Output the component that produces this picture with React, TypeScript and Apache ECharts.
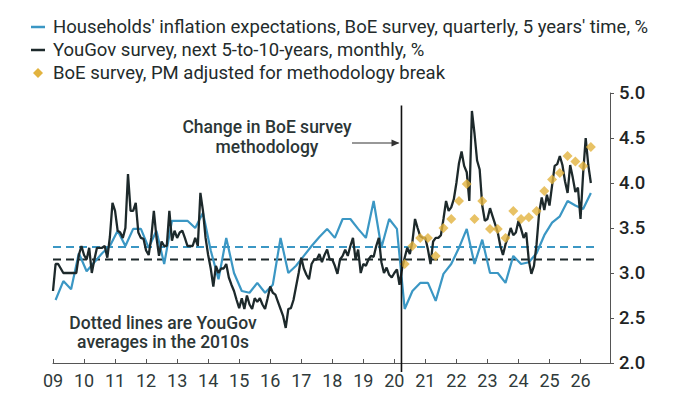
import React, { useEffect, useRef } from "react";
import * as echarts from "echarts";

// ---- axis ticks ----
const YEAR_TICKS = [2009, 2010, 2011, 2012, 2013, 2014, 2015, 2016, 2017, 2018, 2019, 2020, 2021, 2022, 2023, 2024, 2025, 2026];
const YEAR_LABELS = ["09", "10", "11", "12", "13", "14", "15", "16", "17", "18", "19", "20", "21", "22", "23", "24", "25", "26"];
const X_MIN = 2009;
const X_MAX = 2026.95;
const Y_MIN = 2;
const Y_MAX = 5;
const Y_STEP = 0.5;

// ---- series values ----
// YouGov survey, next 5-to-10-years, monthly from Jan 2009
const YOUGOV_START_YEAR = 2009;
const yougovMonthly = [
  2.8, 3.1, 3.1, 3.05, 3.0, 3.0, 3.0, 3.0, 3.0, 3.0, 3.2, 3.3,
  3.2, 3.15, 3.28, 3.0, 3.15, 3.28, 3.28, 3.28, 3.3, 3.17, 3.4, 3.78,
  3.69, 3.47, 3.45, 3.39, 3.5, 4.1, 3.69, 3.69, 3.78, 3.45, 3.39, 3.38,
  3.25, 3.2, 3.39, 3.69, 3.4, 3.19, 3.35, 3.3, 3.3, 3.69, 3.36, 3.47,
  3.39, 3.45, 3.47, 3.39, 3.3, 3.3, 3.3, 3.39, 3.3, 3.89, 3.69, 3.39,
  3.2, 3.05, 2.85, 3.08, 3.0, 3.05, 3.05, 3.1, 2.95, 2.87, 2.8, 2.7,
  2.61, 2.72, 2.6, 2.75, 2.65, 2.6, 2.72, 2.68, 2.72, 2.65, 2.6, 2.72,
  2.85, 2.78, 2.76, 2.68, 2.6, 2.52, 2.39, 2.6, 2.61, 2.7, 2.85, 3.0,
  3.17, 3.05, 2.98, 2.93, 3.1, 3.15, 3.15, 3.21, 3.12, 3.2, 3.26, 3.15,
  3.15, 3.08, 2.99, 3.15, 3.19, 3.26, 3.19, 3.3, 3.39, 3.15, 3.26, 3.0,
  3.1, 3.08, 3.15, 3.19, 3.18, 3.3, 3.39, 3.12, 3.0, 3.06, 2.98, 2.95,
  3.0, 3.04, 2.87, 3.05, 3.17, 3.28, 3.21, 3.35, 3.6, 3.5, 3.41, 3.39,
  3.39, 3.26, 3.1, 3.35, 3.39, 3.39, 3.42, 3.6, 3.8, 3.69, 3.73, 3.82,
  4.0, 4.22, 4.35, 4.19, 4.12, 3.8, 4.8, 4.55, 4.25, 4.15, 3.75, 3.58,
  3.6, 3.72, 3.63, 3.54, 3.45, 3.3, 3.2, 3.32, 3.4, 3.5, 3.42, 3.45,
  3.58, 3.49, 3.39, 3.45, 3.14, 2.99, 3.08, 3.32, 3.67, 3.84, 3.7, 3.87,
  3.75, 3.97, 4.19, 4.21, 4.3, 4.2, 4.02, 3.89, 4.2, 4.06, 3.9, 3.95,
  3.6, 4.1, 4.5, 4.2, 4.0,
];

// BoE household survey, 5 years' time, quarterly (Feb/May/Aug/Nov) from Feb 2009
const BOE_START_YEAR = 2009;
const boeQuarterly = [
  2.7, 2.91, 2.82, 3.22,
  3.02, 3.12, 3.22, 3.3,
  3.47, 3.3, 3.49, 3.49,
  3.28, 3.47, 3.1, 3.58,
  3.58, 3.58, 3.5, 3.67,
  3.25, 2.93, 3.39, 3.0,
  2.8, 2.78, 2.89, 2.78,
  2.87, 3.39, 3.0, 3.08,
  3.19, 3.3, 3.4, 3.49,
  3.39, 3.6, 3.6, 3.49,
  3.39, 3.8, 3.28, 3.6,
  3.49, 2.6, 2.8, 2.89,
  2.89, 2.69, 2.99, 3.1,
  3.28, 3.49, 3.1, 3.37,
  3.0, 3.0, 2.89, 3.19,
  3.1, 3.12, 3.22, 3.42,
  3.56, 3.63, 3.8, 3.75,
  3.71, 3.89,
];

// BoE survey, PM adjusted for methodology break, quarterly from May 2020
const ADJ_START_YEAR = 2020;
const ADJ_START_QUARTER = 1; // May
const boeAdjusted = [
  3.1, 3.3, 3.39,
  3.39, 3.19, 3.5, 3.6,
  3.8, 3.99, 3.6, 3.8,
  3.49, 3.49, 3.39, 3.69,
  3.6, 3.62, 3.69, 3.91,
  4.04, 4.11, 4.3, 4.24,
  4.19, 4.4,
];

// YouGov averages in the 2010s (dashed lines)
const AVG_BLUE = 3.29;
const AVG_DARK = 3.15;
const AVG_END = 2026.5;
const BREAK_YEAR = 2020.23;

const LEGEND_LABELS = [
  "Households' inflation expectations, BoE survey, quarterly, 5 years' time, %",
  "YouGov survey, next 5-to-10-years, monthly, %",
  "BoE survey, PM adjusted for methodology break",
];

const BLUE = "#3b97c4";
const DARK = "#1d292b";
const GOLD = "#e2b33f";
const TEXT = "#232b2b";
const FONT = 'Roboto, "Noto Sans", sans-serif';

export default function App() {
  const ref = useRef<HTMLDivElement>(null);

  useEffect(() => {
    if (!ref.current) return;
    const chart = echarts.init(ref.current, undefined, { renderer: "svg" });

    const yougovData = yougovMonthly.map((v, i) => [YOUGOV_START_YEAR + i / 12, v]);
    const boeData = boeQuarterly.map((v, i) => [BOE_START_YEAR + 1 / 12 + i / 4, v]);
    const adjData = boeAdjusted.map((v, i) => [ADJ_START_YEAR + 1 / 12 + (ADJ_START_QUARTER + i) / 4, v]);

    const option: any = {
      animation: false,
      textStyle: { fontFamily: FONT },
      grid: { left: 53, right: 70, top: 93, bottom: 56, containLabel: false },
      xAxis: {
        type: "value",
        min: X_MIN,
        max: X_MAX,
        splitLine: { show: false },
        axisLine: { show: true, lineStyle: { color: "#555", width: 1 } },
        axisTick: { show: true, inside: true, length: 4, customValues: YEAR_TICKS, lineStyle: { color: "#555" } },
        axisLabel: {
          customValues: YEAR_TICKS,
          formatter: (v: number) => {
            const i = YEAR_TICKS.indexOf(Math.round(v));
            return i >= 0 && Math.abs(v - YEAR_TICKS[i]) < 1e-6 ? YEAR_LABELS[i] : "";
          },
          margin: 8,
          fontSize: 18,
          color: "#2f3a3a",
          fontFamily: FONT,
        },
      },
      yAxis: {
        type: "value",
        position: "right",
        min: Y_MIN,
        max: Y_MAX,
        interval: Y_STEP,
        splitLine: { show: false },
        axisLine: { show: true, lineStyle: { color: "#555", width: 1 } },
        axisTick: { show: true, inside: false, length: 4, lineStyle: { color: "#555" } },
        axisLabel: {
          formatter: (v: number) => v.toFixed(1),
          margin: 9,
          fontSize: 18.5,
          fontWeight: 500,
          color: "#1e2424",
          fontFamily: FONT,
        },
      },
      series: [
        {
          type: "line",
          data: [[X_MIN, AVG_BLUE], [AVG_END, AVG_BLUE]],
          symbol: "none",
          silent: true,
          lineStyle: { color: BLUE, width: 2, type: [8, 5] },
          z: 1,
        },
        {
          type: "line",
          data: [[X_MIN, AVG_DARK], [AVG_END, AVG_DARK]],
          symbol: "none",
          silent: true,
          lineStyle: { color: DARK, width: 2, type: [8, 5] },
          z: 1,
        },
        {
          name: LEGEND_LABELS[0],
          type: "line",
          data: boeData,
          symbol: "none",
          lineStyle: { color: BLUE, width: 2.2 },
          z: 2,
        },
        {
          name: LEGEND_LABELS[1],
          type: "line",
          data: yougovData,
          symbol: "none",
          lineStyle: { color: DARK, width: 2.3 },
          z: 3,
        },
        {
          name: LEGEND_LABELS[2],
          type: "scatter",
          data: adjData,
          symbol: "diamond",
          symbolSize: 10,
          itemStyle: { color: GOLD },
          z: 4,
        },
      ],
    };

    chart.setOption(option);

    const top = chart.convertToPixel({ xAxisIndex: 0, yAxisIndex: 0 }, [BREAK_YEAR, 4.86]) as number[];
    const bottom = chart.convertToPixel({ xAxisIndex: 0, yAxisIndex: 0 }, [BREAK_YEAR, Y_MIN]) as number[];

    const legendRows = [
      { y: 27, kind: "line", color: BLUE },
      { y: 50, kind: "line", color: DARK },
      { y: 73, kind: "diamond", color: GOLD },
    ];

    const graphics: any[] = [];
    legendRows.forEach((r, i) => {
      if (r.kind === "line") {
        graphics.push({
          type: "line",
          shape: { x1: 31, y1: r.y, x2: 45, y2: r.y },
          style: { stroke: r.color, lineWidth: 2.5 },
        });
      } else {
        graphics.push({
          type: "polygon",
          shape: { points: [[38, r.y - 5], [43, r.y], [38, r.y + 5], [33, r.y]] },
          style: { fill: r.color },
        });
      }
      graphics.push({
        type: "text",
        x: 53,
        y: r.y,
        style: { text: LEGEND_LABELS[i], fill: TEXT, fontSize: 18.5, fontFamily: FONT, verticalAlign: "middle", align: "left" },
      });
    });

    const ann = (text: string, x: number, y: number) => ({
      type: "text",
      x,
      y,
      style: { text, fill: "#2c3636", fontSize: 17.5, fontWeight: 500, fontFamily: FONT, verticalAlign: "middle", align: "center" },
    });
    graphics.push(ann("Change in BoE survey", 267, 127));
    graphics.push(ann("methodology", 267, 147));
    graphics.push(ann("Dotted lines are YouGov", 163, 323));
    graphics.push(ann("averages in the 2010s", 163, 342));

    // arrow
    graphics.push({ type: "line", shape: { x1: 352, y1: 143, x2: top[0] - 3, y2: 143 }, style: { stroke: "#333", lineWidth: 1.2 } });
    graphics.push({
      type: "polygon",
      shape: { points: [[top[0] - 2, 143], [top[0] - 10, 139.5], [top[0] - 10, 146.5]] },
      style: { fill: "#333" },
    });

    // methodology break line
    graphics.push({
      type: "line",
      shape: { x1: top[0], y1: top[1], x2: bottom[0], y2: bottom[1] + 9 },
      style: { stroke: "#111", lineWidth: 1.6 },
      z: 10,
    });

    chart.setOption({ graphic: graphics });

    return () => chart.dispose();
  }, []);

  return (
    <div
      ref={ref}
      style={{ position: "fixed", left: 0, top: 0, width: 680, height: 419, background: "#fff" }}
    />
  );
}
